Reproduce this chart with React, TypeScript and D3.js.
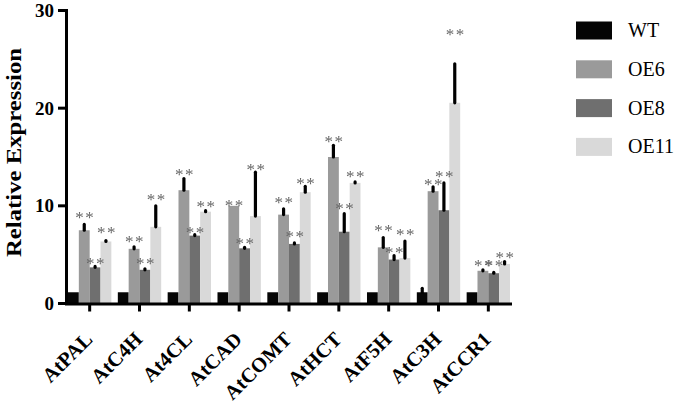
import React from 'react';
import * as d3 from 'd3';

const categories = ['AtPAL', 'AtC4H', 'At4CL', 'AtCAD', 'AtCOMT', 'AtHCT', 'AtF5H', 'AtC3H', 'AtCCR1'];
const seriesNames = ['WT', 'OE6', 'OE8', 'OE11'];
const seriesColors = ['#050505', '#9a9a9a', '#6f6f6f', '#d9d9d9'];

const wtValues = [1.15, 1.15, 1.15, 1.15, 1.15, 1.15, 1.15, 1.15, 1.15];
const wtErrors = [0, 0, 0, 0, 0, 0, 0, 0.4, 0];
const oe6Values = [7.5, 5.6, 11.6, 10.0, 9.1, 15.0, 5.75, 11.5, 3.35];
const oe6Errors = [0.6, 0.2, 1.2, 0, 0.6, 1.2, 1.0, 0.45, 0.1];
const oe8Values = [3.7, 3.45, 6.95, 5.65, 6.1, 7.35, 4.5, 9.55, 3.1];
const oe8Errors = [0.1, 0.1, 0.1, 0.1, 0.1, 1.85, 0.4, 2.8, 0.1];
const oe11Values = [6.35, 7.85, 9.4, 8.95, 11.4, 12.35, 4.65, 20.55, 4.05];
const oe11Errors = [0.1, 2.15, 0.1, 4.5, 0.6, 0.1, 1.75, 4.0, 0.25];

// significance marks (level in expression units where "**" is centred)
const oe6Sig = [9.15, 6.7, 13.5, 10.35, 10.6, 16.85, 7.8, 12.5, 4.15];
const oe8Sig = [4.4, 4.4, 7.55, 6.45, 7.2, 10.0, 5.5, 13.3, 4.15];
const oe11Sig = [7.6, 11.0, 10.2, 14.0, 12.6, 13.35, 7.4, 27.85, 5.0];

const yTicks = [0, 10, 20, 30];
const yLabel = 'Relative Expression';

const values = [wtValues, oe6Values, oe8Values, oe11Values];
const errors = [wtErrors, oe6Errors, oe8Errors, oe11Errors];
const sigs = [null, oe6Sig, oe8Sig, oe11Sig];

const FONT = '"Liberation Serif", "Times New Roman", serif';

export default function App() {
  const x = d3.scaleBand<string>().domain(categories).range([66, 512]).paddingInner(0.13).paddingOuter(0.04);
  const xi = d3.scaleBand<string>().domain(seriesNames).range([0, x.bandwidth()]).padding(0);
  const y = d3.scaleLinear().domain([0, 30]).range([303.5, 10.5]);

  return (
    <svg width={685} height={404} style={{ position: 'absolute', left: 0, top: 0, background: '#fff' }}>
      {/* bars */}
      {categories.map((c, ci) => (
        <g key={c}>
          {seriesNames.map((s, si) => {
            const v = values[si][ci];
            const bx = (x(c) as number) + (xi(s) as number);
            return (
              <rect key={s} x={bx} y={y(v)} width={xi.bandwidth()} height={y(0) - y(v)} fill={seriesColors[si]} />
            );
          })}
        </g>
      ))}
      {/* error bars */}
      {categories.map((c, ci) => (
        <g key={c + 'e'}>
          {seriesNames.map((s, si) => {
            const v = values[si][ci];
            const e = errors[si][ci];
            if (e <= 0) return null;
            const cx = (x(c) as number) + (xi(s) as number) + xi.bandwidth() / 2;
            return (
              <line key={s} x1={cx} x2={cx} y1={y(v)} y2={y(v + e)} stroke="#000" strokeWidth={3.2} strokeLinecap="round" />
            );
          })}
        </g>
      ))}
      {/* significance stars */}
      <g style={{ filter: 'grayscale(1)' }}>
        {categories.map((c, ci) => (
          <g key={c + 's'}>
            {seriesNames.map((s, si) => {
              const sg = sigs[si];
              if (!sg) return null;
              const cx = (x(c) as number) + (xi(s) as number) + xi.bandwidth() / 2;
              return (
                <text
                  key={s}
                  x={cx + 1}
                  y={y(sg[ci]) + 8.5}
                  textAnchor="middle"
                  fontFamily={FONT}
                  fontSize={17}
                  letterSpacing={1.5}
                  fill="#666"
                >
                  **
                </text>
              );
            })}
          </g>
        ))}
      </g>
      {/* y axis */}
      <line x1={66.5} x2={66.5} y1={y(30) - 1.5} y2={y(0) + 1.5} stroke="#000" strokeWidth={3} />
      {yTicks.map((t) => (
        <g key={t}>
          <line x1={58} x2={66.5} y1={y(t)} y2={y(t)} stroke="#000" strokeWidth={3} />
          <text x={54} y={y(t) + 6.5} textAnchor="end" fontFamily={FONT} fontWeight="bold" fontSize={19} fill="#000">
            {t}
          </text>
        </g>
      ))}
      <text
        transform={`translate(21,152.5) rotate(-90)`}
        textAnchor="middle"
        fontFamily={FONT}
        fontWeight="bold"
        fontSize={22}
        textLength={209}
        lengthAdjust="spacingAndGlyphs"
        fill="#000"
      >
        {yLabel}
      </text>
      {/* x axis */}
      <line x1={65} x2={512} y1={y(0) + 0.5} y2={y(0) + 0.5} stroke="#000" strokeWidth={3} />
      {categories.map((c) => {
        const cx = (x(c) as number) + x.bandwidth() / 2;
        return (
          <g key={c + 't'}>
            <line x1={cx} x2={cx} y1={y(0)} y2={y(0) + 8} stroke="#000" strokeWidth={3} />
            <text
              transform={`translate(${cx + 4},${y(0) + 37}) rotate(-45)`}
              textAnchor="end"
              fontFamily={FONT}
              fontWeight="bold"
              fontSize={20.5}
              fill="#000"
            >
              {c}
            </text>
          </g>
        );
      })}
      {/* legend */}
      {seriesNames.map((s, si) => (
        <g key={s + 'l'} transform={`translate(576,${21.5 + si * 38.8})`}>
          <rect x={0} y={0} width={36} height={18} fill={seriesColors[si]} />
          <text x={52} y={15.5} fontFamily={FONT} fontSize={20} fill="#000">
            {s}
          </text>
        </g>
      ))}
    </svg>
  );
}
